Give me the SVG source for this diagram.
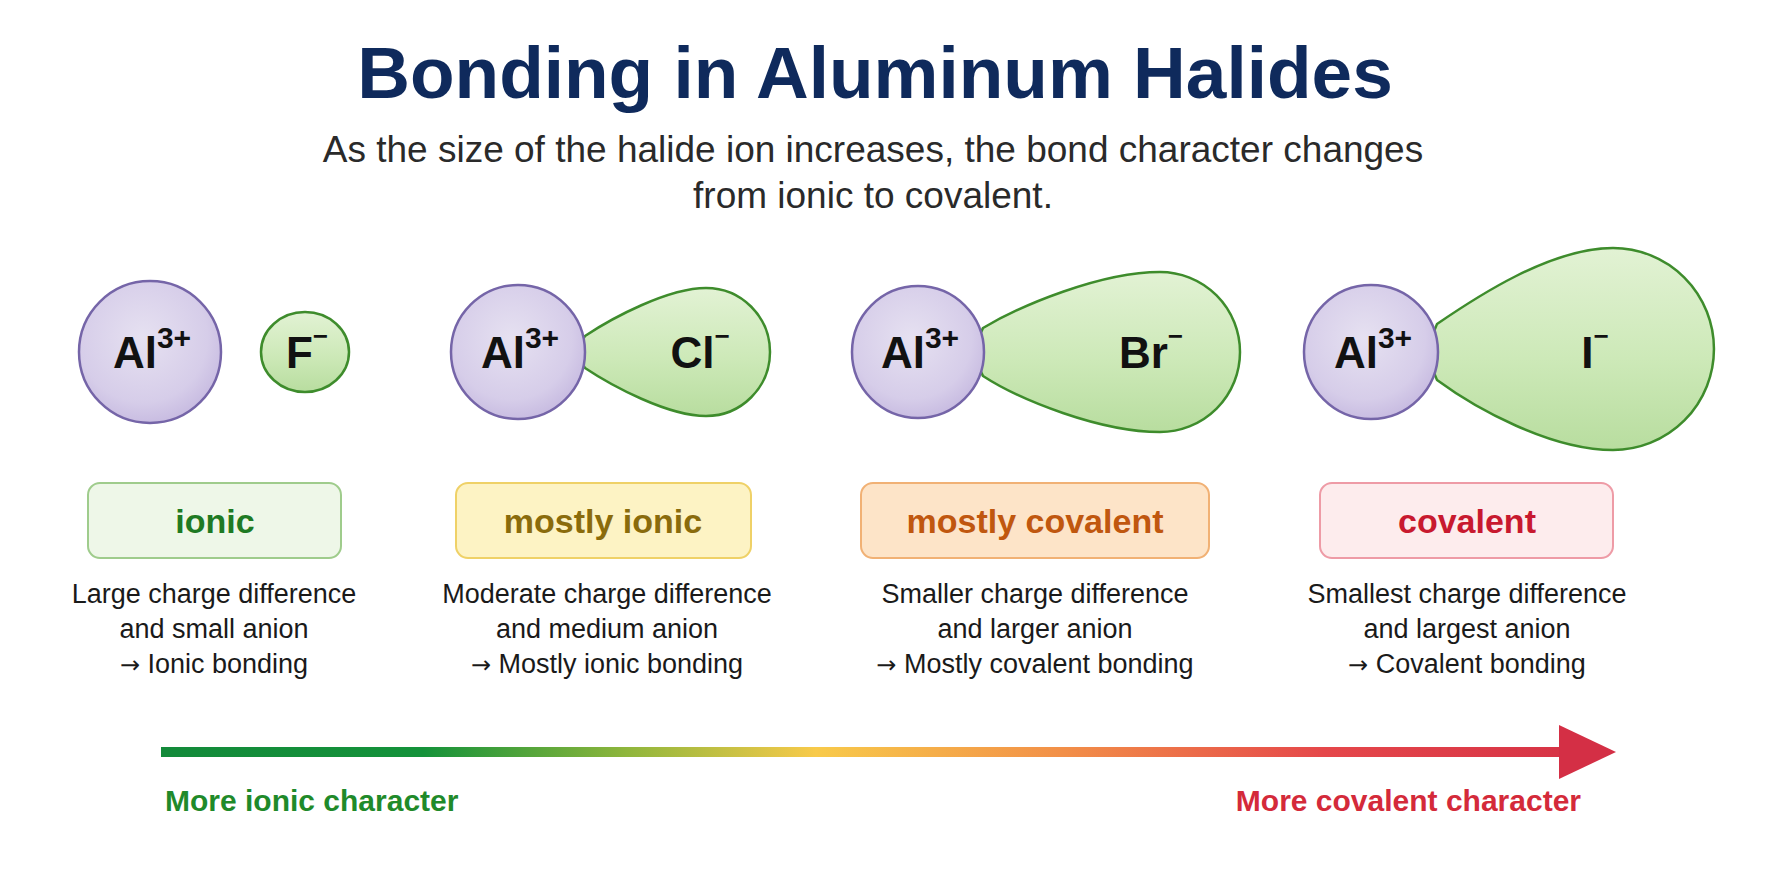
<svg xmlns="http://www.w3.org/2000/svg" width="1774" height="887" viewBox="0 0 1774 887">
<defs>
<radialGradient id="alFill" cx="0.45" cy="0.4" r="0.65">
<stop offset="0" stop-color="#e6e1f1"/>
<stop offset="0.7" stop-color="#d6cde9"/>
<stop offset="1" stop-color="#c4b7df"/>
</radialGradient>
<linearGradient id="grFill" x1="0" y1="0" x2="0" y2="1">
<stop offset="0" stop-color="#e2f2d4"/>
<stop offset="0.55" stop-color="#cde9b8"/>
<stop offset="1" stop-color="#b8dd9f"/>
</linearGradient>
<linearGradient id="scale" gradientUnits="userSpaceOnUse" x1="161" y1="0" x2="1616" y2="0">
<stop offset="0" stop-color="#138a3a"/>
<stop offset="0.18" stop-color="#14923a"/>
<stop offset="0.32" stop-color="#8fb63c"/>
<stop offset="0.45" stop-color="#f8ca4a"/>
<stop offset="0.62" stop-color="#f28f48"/>
<stop offset="0.8" stop-color="#e5474a"/>
<stop offset="1" stop-color="#d42f45"/>
</linearGradient>
<style>
.al{fill:url(#alFill);stroke:#7565a8;stroke-width:2.5}
.an{fill:url(#grFill);stroke:#3e8c2c;stroke-width:2.5}
.ion{font-family:"Liberation Sans",Arial,sans-serif;font-weight:bold;font-size:44px;fill:#111;text-anchor:middle}
.sup{font-size:30px}
.box{stroke-width:2}
.lbl{font-family:"Liberation Sans",Arial,sans-serif;font-weight:bold;font-size:34px;text-anchor:middle}
.desc{font-family:"Liberation Sans",Arial,sans-serif;font-size:27px;fill:#1a1a1a;text-anchor:middle}
.arr{font-family:"DejaVu Sans",sans-serif;font-size:24px}
</style>
</defs>
<rect width="1774" height="887" fill="#ffffff"/>

<g id="title">
<text x="875" y="98" text-anchor="middle" font-family="'Liberation Sans',Arial,sans-serif" font-weight="bold" font-size="73" fill="#0f2a5c">Bonding in Aluminum Halides</text>
<text x="873" y="162" text-anchor="middle" font-family="'Liberation Sans',Arial,sans-serif" font-size="37" fill="#2a2a2a">As the size of the halide ion increases, the bond character changes</text>
<text x="873" y="208" text-anchor="middle" font-family="'Liberation Sans',Arial,sans-serif" font-size="37" fill="#2a2a2a">from ionic to covalent.</text>
</g>

<g id="AlF">
<circle class="al" cx="150" cy="352" r="71"/>
<text class="ion" x="152" y="368">Al<tspan class="sup" dy="-20">3+</tspan></text>
<ellipse class="an" cx="305" cy="352" rx="44" ry="40"/>
<text class="ion" x="307" y="368">F<tspan font-size="26" dy="-23">−</tspan></text>
</g>

<g id="AlCl">
<path class="an" d="M585,336 C612,318 668,288 706,288 A64,64 0 0 1 706,416 C668,416 612,386 585,368 C579,360 579,344 585,336 Z"/>
<circle class="al" cx="518" cy="352" r="67"/>
<text class="ion" x="520" y="368">Al<tspan class="sup" dy="-20">3+</tspan></text>
<text class="ion" x="700" y="368">Cl<tspan font-size="26" dy="-23">−</tspan></text>
</g>

<g id="AlBr">
<path class="an" d="M983,328 C1020,306 1100,272 1160,272 A80,80 0 0 1 1160,432 C1100,432 1020,400 983,376 C976,364 976,340 983,328 Z"/>
<circle class="al" cx="918" cy="352" r="66"/>
<text class="ion" x="920" y="368">Al<tspan class="sup" dy="-20">3+</tspan></text>
<text class="ion" x="1151" y="368">Br<tspan font-size="26" dy="-23">−</tspan></text>
</g>

<g id="AlI">
<path class="an" d="M1437,324 C1475,298 1550,248 1613,248 A101,101 0 0 1 1613,450 C1550,450 1475,408 1437,380 C1430,366 1430,338 1437,324 Z"/>
<circle class="al" cx="1371" cy="352" r="67"/>
<text class="ion" x="1373" y="368">Al<tspan class="sup" dy="-20">3+</tspan></text>
<text class="ion" x="1595" y="368">I<tspan font-size="26" dy="-23">−</tspan></text>
</g>

<g id="ionic">
<rect class="box" x="88" y="483" width="253" height="75" rx="12" fill="#eef7e8" stroke="#9fcc8c"/>
<text class="lbl" x="215" y="533" fill="#1e7a23">ionic</text>
<text class="desc" x="214" y="603">Large charge difference</text>
<text class="desc" x="214" y="638">and small anion</text>
<text class="desc" x="214" y="673"><tspan class="arr">→</tspan> Ionic bonding</text>
</g>

<g id="mostly-ionic">
<rect class="box" x="456" y="483" width="295" height="75" rx="12" fill="#fdf3c4" stroke="#efd167"/>
<text class="lbl" x="603" y="533" fill="#8a6b0c">mostly ionic</text>
<text class="desc" x="607" y="603">Moderate charge difference</text>
<text class="desc" x="607" y="638">and medium anion</text>
<text class="desc" x="607" y="673"><tspan class="arr">→</tspan> Mostly ionic bonding</text>
</g>

<g id="mostly-covalent">
<rect class="box" x="861" y="483" width="348" height="75" rx="12" fill="#fde4c8" stroke="#f1b175"/>
<text class="lbl" x="1035" y="533" fill="#c0570f">mostly covalent</text>
<text class="desc" x="1035" y="603">Smaller charge difference</text>
<text class="desc" x="1035" y="638">and larger anion</text>
<text class="desc" x="1035" y="673"><tspan class="arr">→</tspan> Mostly covalent bonding</text>
</g>

<g id="covalent">
<rect class="box" x="1320" y="483" width="293" height="75" rx="12" fill="#fdeced" stroke="#ee9ba6"/>
<text class="lbl" x="1467" y="533" fill="#c8192f">covalent</text>
<text class="desc" x="1467" y="603">Smallest charge difference</text>
<text class="desc" x="1467" y="638">and largest anion</text>
<text class="desc" x="1467" y="673"><tspan class="arr">→</tspan> Covalent bonding</text>
</g>

<g id="connectors">
<rect x="161" y="747" width="1402" height="10" fill="url(#scale)"/>
<polygon points="1559,725 1616,752 1559,779" fill="#d42f45"/>
</g>

<g id="scale-labels">
<text x="165" y="811" font-family="'Liberation Sans',Arial,sans-serif" font-weight="bold" font-size="30" fill="#1f8a2a">More ionic character</text>
<text x="1581" y="811" text-anchor="end" font-family="'Liberation Sans',Arial,sans-serif" font-weight="bold" font-size="30" fill="#d42a3a">More covalent character</text>
</g>
</svg>
